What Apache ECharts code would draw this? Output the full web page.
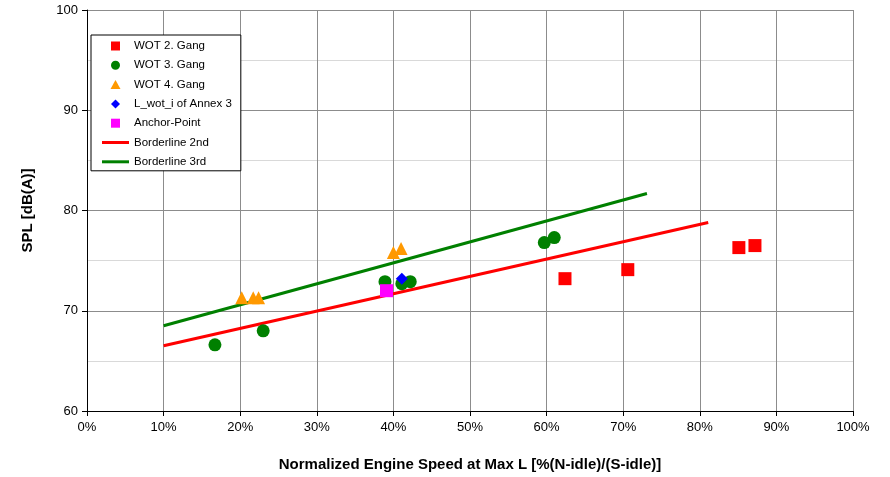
<!DOCTYPE html>
<html><head><meta charset="utf-8">
<script src="https://cdn.jsdelivr.net/npm/echarts@6/dist/echarts.min.js"></script>
<style>html,body{margin:0;padding:0;background:#fff}#c{width:890px;height:477px}</style>
</head><body><div id="c"></div>
<script>
const wot2 = [[0.624, 73.2], [0.706, 74.1], [0.851, 76.3], [0.872, 76.5]];
const wot3 = [[0.167, 66.6], [0.230, 68.0], [0.389, 72.9], [0.411, 72.7], [0.422, 72.9], [0.597, 76.8], [0.610, 77.3]];
const wot4 = [[0.202, 71.3], [0.217, 71.3], [0.224, 71.3], [0.400, 75.8], [0.410, 76.2]];
const lwot = [[0.411, 73.2]];
const anchor = [[0.391, 72.0]];
const border2 = [[0.10, 66.5], [0.811, 78.8]];
const border3 = [[0.10, 68.5], [0.731, 81.7]];
const seriesNames = ['WOT 2. Gang', 'WOT 3. Gang', 'WOT 4. Gang', 'L_wot_i of Annex 3', 'Anchor-Point', 'Borderline 2nd', 'Borderline 3rd'];

const ICON_SQ = 'path://M0,0H10V10H0Z';
const ICON_CI = 'path://M5,0A5,5 0 1,1 4.99,0Z';
const ICON_TR = 'path://M5,0L10,9H0Z';
const ICON_DI = 'path://M5,0L10,5L5,10L0,5Z';
const ICON_LN = 'path://M0,0H27V3H0Z';
const legendIcons = [ICON_SQ, ICON_CI, ICON_TR, ICON_DI, ICON_SQ, ICON_LN, ICON_LN];

const font = 'Liberation Sans, Arial, sans-serif';
const chart = echarts.init(document.getElementById('c'), null, {renderer: 'canvas'});
chart.setOption({
  animation: false,
  backgroundColor: '#fff',
  grid: {left: 87, right: 37, top: 10, bottom: 65},
  legend: {
    orient: 'vertical', left: 91, top: 35,
    data: seriesNames.map((n, i) => ({name: n, icon: legendIcons[i]})),
    symbolKeepAspect: true,
    backgroundColor: '#fff', borderColor: '#000', borderWidth: 1,
    padding: [5, 9, 3, 11],
    itemWidth: 27, itemHeight: 9, itemGap: 7.3,
    textStyle: {fontFamily: font, fontSize: 11.5, color: '#000'}
  },
  xAxis: {
    type: 'value', min: 0, max: 1, interval: 0.1,
    name: 'Normalized Engine Speed at Max L [%(N-idle)/(S-idle)]',
    nameLocation: 'middle', nameGap: 46,
    nameTextStyle: {fontFamily: font, fontSize: 15, fontWeight: 'bold', color: '#000'},
    axisLine: {show: true, lineStyle: {color: '#000', width: 1}},
    axisTick: {show: true, length: 5, lineStyle: {color: '#000'}},
    axisLabel: {fontFamily: font, fontSize: 13, color: '#000', margin: 10,
      formatter: v => Math.round(v * 100) + '%'},
    splitLine: {show: true, lineStyle: {color: '#8c8c8c', width: 1}}
  },
  yAxis: {
    type: 'value', min: 60, max: 100, interval: 10,
    name: 'SPL [dB(A)]', nameLocation: 'middle', nameGap: 52, nameRotate: 90,
    nameTextStyle: {fontFamily: font, fontSize: 15, fontWeight: 'bold', color: '#000'},
    axisLine: {show: true, lineStyle: {color: '#000', width: 1}},
    axisTick: {show: true, length: 5, lineStyle: {color: '#000'}},
    axisLabel: {fontFamily: font, fontSize: 13, color: '#000', margin: 9},
    splitLine: {show: true, lineStyle: {color: '#8c8c8c', width: 1}},
    minorTick: {show: false, splitNumber: 2},
    minorSplitLine: {show: true, lineStyle: {color: '#d9d9d9', width: 1}}
  },
  series: [
    {name: seriesNames[5], type: 'line', data: border2, symbol: 'none', z: 2,
      lineStyle: {color: '#ff0000', width: 3}, itemStyle: {color: '#ff0000'}},
    {name: seriesNames[6], type: 'line', data: border3, symbol: 'none', z: 2,
      lineStyle: {color: '#008000', width: 3}, itemStyle: {color: '#008000'}},
    {name: seriesNames[0], type: 'scatter', data: wot2, symbol: 'rect', symbolSize: 13, z: 3,
      itemStyle: {color: '#ff0000', opacity: 1}},
    {name: seriesNames[1], type: 'scatter', data: wot3, symbol: 'circle', symbolSize: 13, z: 3,
      itemStyle: {color: '#008000', opacity: 1}},
    {name: seriesNames[2], type: 'scatter', data: wot4, symbol: 'triangle', symbolSize: 13, z: 3,
      itemStyle: {color: '#ff9900', opacity: 1}},
    {name: seriesNames[3], type: 'scatter', data: lwot, symbol: 'diamond', symbolSize: 12, z: 4,
      itemStyle: {color: '#0000ff', opacity: 1}},
    {name: seriesNames[4], type: 'scatter', data: anchor, symbol: 'rect', symbolSize: 13, z: 4,
      itemStyle: {color: '#ff00ff', opacity: 1}}
  ]
});
</script></body></html>
